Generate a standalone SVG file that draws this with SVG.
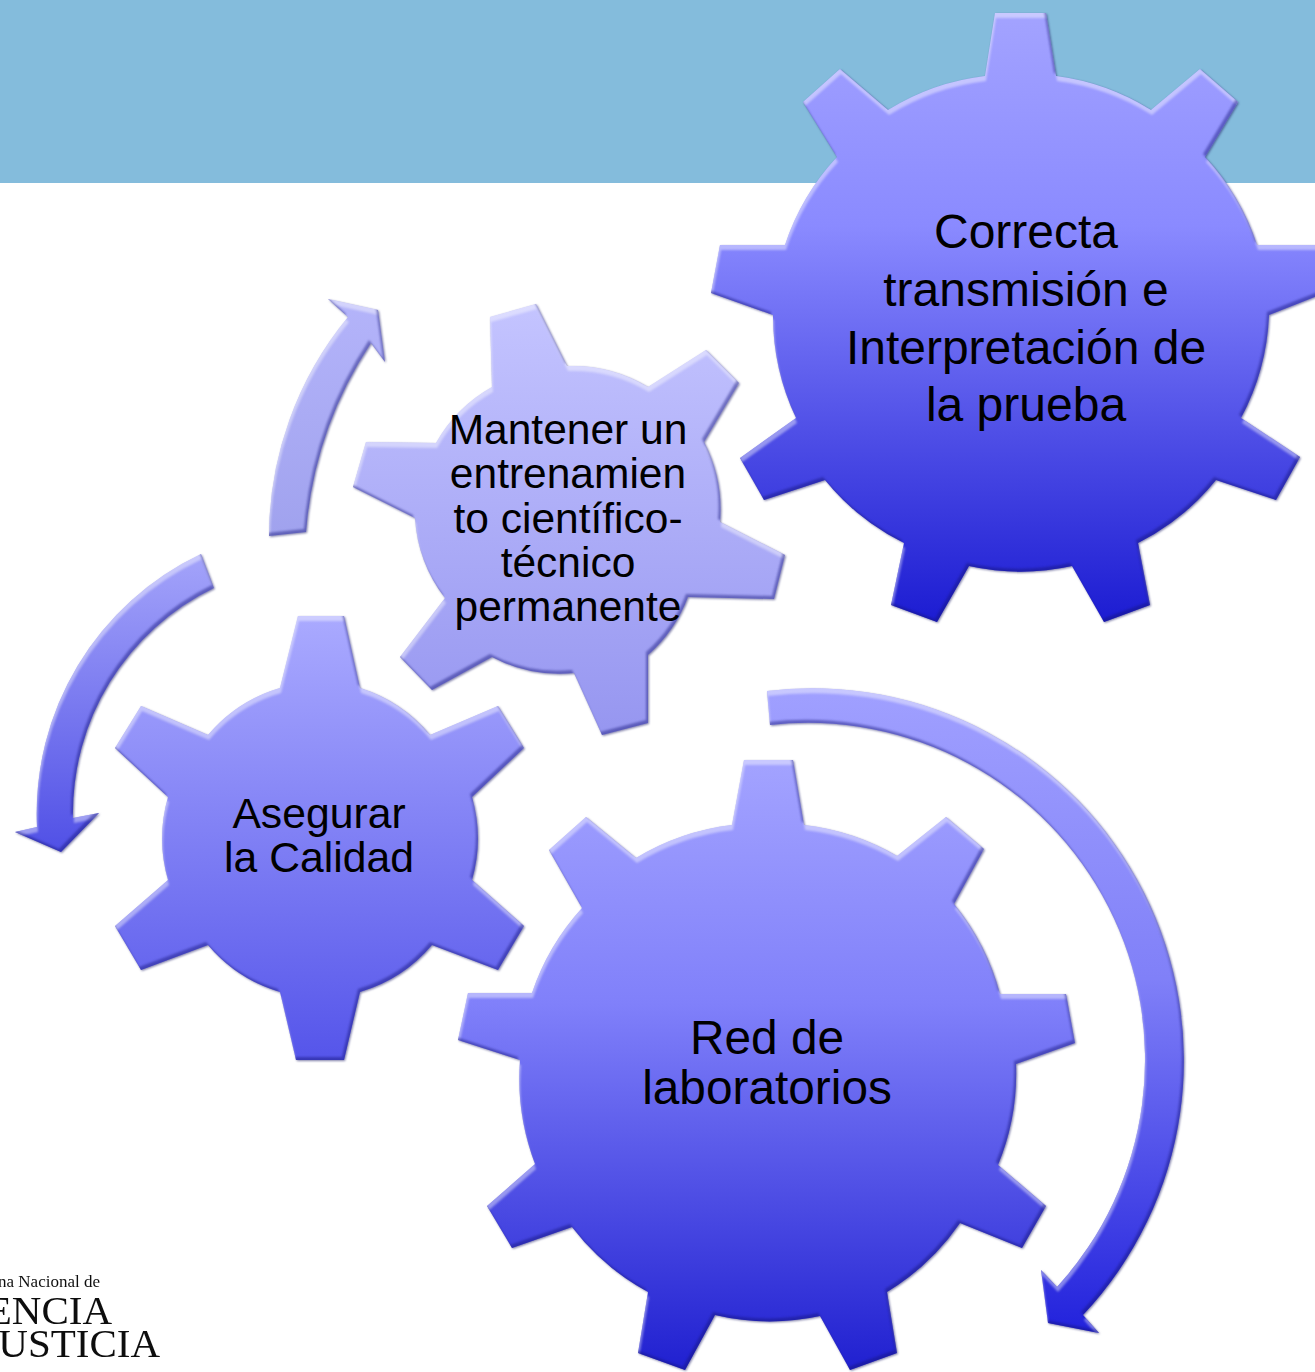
<svg xmlns="http://www.w3.org/2000/svg" width="1315" height="1372" viewBox="0 0 1315 1372">
<style>
text{font-family:"Liberation Sans",Arial,sans-serif;fill:#000;text-anchor:middle}
text.logo{font-family:"Liberation Serif","Times New Roman",serif;fill:#111;text-anchor:end;filter:url(#soft)}
.g,.a{filter:url(#bevel)}
</style>
<defs>
<linearGradient id="g1" x1="0" y1="0" x2="0" y2="1"><stop offset="0" stop-color="#a3a3ff"/><stop offset=".35" stop-color="#8a8aff"/><stop offset=".7" stop-color="#4d4de6"/><stop offset="1" stop-color="#1c1cd2"/></linearGradient>
<linearGradient id="g2" x1="0" y1="0" x2="0" y2="1"><stop offset="0" stop-color="#c4c4ff"/><stop offset="1" stop-color="#9696f0"/></linearGradient>
<linearGradient id="g3" x1="0" y1="0" x2="0" y2="1"><stop offset="0" stop-color="#aaaaff"/><stop offset="1" stop-color="#5555ea"/></linearGradient>
<linearGradient id="g4" x1="0" y1="0" x2="0" y2="1"><stop offset="0" stop-color="#a3a3ff"/><stop offset=".4" stop-color="#8080fa"/><stop offset=".75" stop-color="#4848e2"/><stop offset="1" stop-color="#2020d0"/></linearGradient>
<linearGradient id="a1" x1="0" y1="0" x2="0" y2="1"><stop offset="0" stop-color="#b4b4fa"/><stop offset="1" stop-color="#a0a2ee"/></linearGradient>
<linearGradient id="a2" x1="0" y1="0" x2="0" y2="1"><stop offset="0" stop-color="#a4a4fa"/><stop offset="1" stop-color="#5050e6"/></linearGradient>
<linearGradient id="a3" x1="0" y1="0" x2="0" y2="1"><stop offset="0" stop-color="#a0a0ff"/><stop offset=".45" stop-color="#8080f8"/><stop offset=".8" stop-color="#4444e6"/><stop offset="1" stop-color="#2222dc"/></linearGradient>
<filter id="soft" x="-5%" y="-20%" width="110%" height="140%"><feGaussianBlur stdDeviation="0.55"/></filter>
<filter id="bevel" x="-6%" y="-6%" width="112%" height="112%" color-interpolation-filters="sRGB">
<feGaussianBlur in="SourceAlpha" stdDeviation="1.2" result="sb"/><feOffset in="sb" dx="0.5" dy="1.2" result="so"/>
<feFlood flood-color="#2a2a70" flood-opacity=".6"/><feComposite in2="so" operator="in" result="shadow"/>
<feOffset in="SourceAlpha" dx="1" dy="5" result="o1"/><feGaussianBlur in="o1" stdDeviation="1.2" result="b1"/>
<feComposite in="SourceAlpha" in2="b1" operator="out" result="e1"/>
<feFlood flood-color="#fff" flood-opacity=".42"/><feComposite in2="e1" operator="in" result="hi"/>
<feOffset in="SourceAlpha" dx="-2" dy="-3" result="o2"/><feGaussianBlur in="o2" stdDeviation="1.2" result="b2"/>
<feComposite in="SourceAlpha" in2="b2" operator="out" result="e2"/>
<feFlood flood-color="#15157a" flood-opacity=".45"/><feComposite in2="e2" operator="in" result="lo"/>
<feMerge><feMergeNode in="shadow"/><feMergeNode in="SourceGraphic"/><feMergeNode in="hi"/><feMergeNode in="lo"/></feMerge>
</filter>
</defs>
<rect id="header" x="0" y="0" width="1315" height="183" fill="#84bcdc"/>
<g id="logo">
<text class="logo" x="100" y="1287" font-size="17">na Nacional de</text>
<text class="logo" x="112" y="1324" font-size="41">ENCIA</text>
<text class="logo" x="160" y="1357" font-size="41">USTICIA</text>
</g>
<g id="connectors">
<path class="a" fill="url(#a1)" d="M269 536A346 346 0 0 1 348 317L328 299L378 310L385 362L371 343A400 400 0 0 0 306 532Z"/>
<path class="a" fill="url(#a2)" d="M201 554A287 287 0 0 0 37 827L15 832L61 852L99 813L73 818A250 250 0 0 1 214 588Z"/>
<path class="a" fill="url(#a3)" d="M767 691A372 372 0 0 1 1083 1315L1099 1333L1048 1323L1041 1270L1057 1287A337 337 0 0 0 770 725Z"/>
</g>
<g id="gear-correcta">
<path class="g" fill="url(#g1)" d="M995 13H1046L1056 76A238 238 0 0 1 1151 110L1200 69L1238 102L1205 157A238 238 0 0 1 1257 245H1325V293L1269 315A238 238 0 0 1 1241 418L1300 457L1276 500L1216 480A238 238 0 0 1 1138 543L1150 605L1104 622L1072 566A238 238 0 0 1 969 566L937 622L891 605L904 543A238 238 0 0 1 825 480L764 500L740 458L796 418A238 238 0 0 1 773 315L711 293L720 245H785A238 238 0 0 1 837 157L803 102L840 69L888 110A238 238 0 0 1 985 76Z"/>
<text font-size="48"><tspan x="1026" y="248">Correcta</tspan><tspan x="1026" y="306">transmisión e</tspan><tspan x="1026" y="364">Interpretación de</tspan><tspan x="1026" y="421">la prueba</tspan></text>
</g>
<g id="gear-mantener">
<path class="g" fill="url(#g2)" d="M490 317L536 304L567 366A146 146 0 0 1 648 387L706 350L739 383L704 442A146 146 0 0 1 720 522L785 555L774 599L688 597A146 146 0 0 1 648 655V723L602 735L574 673A146 146 0 0 1 492 657L432 690L400 657L445 598A146 146 0 0 1 415 518L353 487L366 442L436 443A146 146 0 0 1 492 387Z"/>
<text font-size="42.5"><tspan x="568" y="444">Mantener un</tspan><tspan x="568" y="488">entrenamien</tspan><tspan x="568" y="533">to científico-</tspan><tspan x="568" y="577">técnico</tspan><tspan x="568" y="621">permanente</tspan></text>
</g>
<g id="gear-asegurar">
<path class="g" fill="url(#g3)" d="M298 616H344L360 688A150 150 0 0 1 430 735L498 706L524 748L472 797A150 150 0 0 1 472 880L524 926L498 970L432 945A150 150 0 0 1 360 992L344 1060H296L280 992A150 150 0 0 1 208 945L141 970L115 926L168 880A150 150 0 0 1 168 797L115 748L141 706L208 735A150 150 0 0 1 280 688Z"/>
<text font-size="42.7"><tspan x="319" y="828">Asegurar</tspan><tspan x="319" y="872">la Calidad</tspan></text>
</g>
<g id="gear-red">
<path class="g" fill="url(#g4)" d="M744 760H793L804 825A240 240 0 0 1 897 856L946 817L984 849L954 904A240 240 0 0 1 1000 994H1066L1075 1043L1016 1064A240 240 0 0 1 998 1165L1046 1206L1022 1248L960 1223A240 240 0 0 1 887 1292L897 1353L850 1370L820 1316A240 240 0 0 1 715 1315L685 1370L638 1353L648 1292A240 240 0 0 1 572 1227L512 1248L487 1206L535 1164A240 240 0 0 1 520 1060L458 1040L468 993H532A240 240 0 0 1 582 908L549 850L586 817L636 858A240 240 0 0 1 732 825Z"/>
<text font-size="47.8"><tspan x="767" y="1054">Red de</tspan><tspan x="767" y="1104">laboratorios</tspan></text>
</g>
</svg>
